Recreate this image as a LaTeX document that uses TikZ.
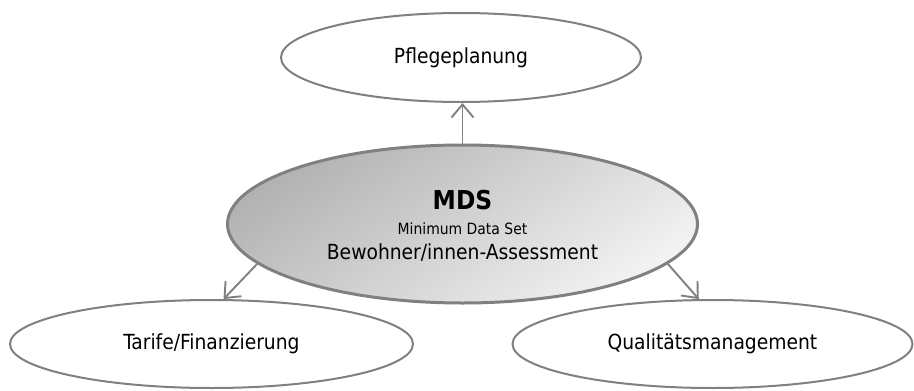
\documentclass[tikz,border=0pt]{standalone}
\usepackage{fontspec}
\setmainfont{DejaVu Sans Condensed}
\usetikzlibrary{shapes.geometric,arrows.meta}

\tikzset{
	oval/.style={ellipse,draw=black!50,line width=2pt,fill=white,inner sep=0pt,font=\fontsize{20.8}{24}\selectfont},
	pfeil/.style={draw=black!50,line width=1.9pt,-{Straight Barb[length=13pt,width=22pt,line width=1.9pt]}}
}

\begin{document}
\begin{tikzpicture}[x=1pt,y=1pt,yscale=-1,xscale=1]
			\useasboundingbox (0,0) rectangle (914,391);
			
			\node[oval,minimum width=360,minimum height=89] (pflege) at (461,57.5) {Pflegeplanung};
			\node[oval,minimum width=403,minimum height=88] (tarife) at (211.5,344) {Tarife/Finanzierung};
			\node[oval,minimum width=400,minimum height=88] (quali) at (712.5,344) {Qualitätsmanagement};
			\node[ellipse,draw=black!50,line width=3pt,inner sep=0pt,minimum width=470,minimum height=158,
				top color=black!30,bottom color=black!5,shading angle=35] (mds) at (462.5,224) {};
			
			\node[font=\bfseries\fontsize{26}{30}\selectfont] (mdstitel) at (462.5,200) {MDS};
			\node[font=\fontsize{15.5}{18}\selectfont] (mdsname) at (462.5,229) {Minimum Data Set};
			\node[font=\fontsize{20.8}{24}\selectfont] (mdstext) at (462.5,253) {Bewohner/innen-Assessment};
			
			\draw[pfeil] (mds.north) -- (mds.north |- pflege.south);
			\draw[pfeil] (mds.191) -- (tarife.75);
			\draw[pfeil] (mds.-11) -- (quali.107);
\end{tikzpicture}
\end{document}
